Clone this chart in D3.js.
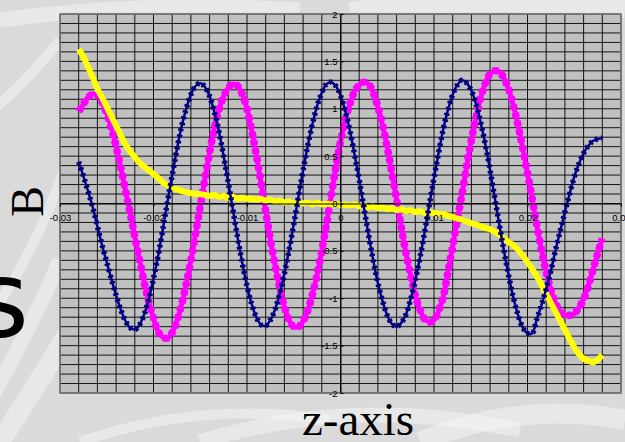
<!DOCTYPE html>
<html>
<head>
<meta charset="utf-8">
<script src="https://cdn.jsdelivr.net/npm/d3@7"></script>
<style>
body { margin:0; background:#dcdcdc; }
svg  { display:block; }
.tick text { font-family:"Liberation Sans", Arial, sans-serif; font-size:9.5px; fill:#000; }
</style>
</head>
<body>
<svg id="chart" width="625" height="442"></svg>
<script>
/* Sampling of the z-axis */

var Z_START = -0.028,
    Z_STEP  =  0.0005;

/* Axis ticks */

var X_TICKS = [-0.03, -0.02, -0.01, 0, 0.01, 0.02, 0.03];
var Y_TICKS = [-2, -1.5, -1, -0.5, 0, 0.5, 1, 1.5, 2];

/* Field components, one value per z sample */

var bNavy = [ 0.44, 0.29, 0.13,-0.04,-0.24,-0.44,-0.62,-0.80,-0.97,-1.12,-1.24,-1.31,-1.33,
             -1.28,-1.17,-1.01,-0.79,-0.55,-0.27, 0.02, 0.30, 0.57, 0.81, 1.00, 1.15, 1.24, 1.27,
              1.23, 1.13, 0.97, 0.76, 0.50, 0.22,-0.07,-0.36,-0.63,-0.87,-1.06,-1.20,-1.28,-1.29,
             -1.23,-1.12,-0.95,-0.74,-0.49,-0.22, 0.07, 0.35, 0.61, 0.84, 1.03, 1.17, 1.26, 1.28,
              1.24, 1.14, 0.98, 0.77, 0.52, 0.25,-0.04,-0.33,-0.60,-0.84,-1.03,-1.18,-1.27,-1.30,
             -1.26,-1.17,-1.01,-0.81,-0.57,-0.30,-0.01, 0.27, 0.54, 0.79, 0.99, 1.15, 1.25, 1.30,
              1.27, 1.19, 1.05, 0.85, 0.62, 0.35, 0.06,-0.23,-0.51,-0.77,-1.00,-1.18,-1.31,-1.37,
             -1.37,-1.22,-1.07,-0.90,-0.71,-0.49,-0.29,-0.09, 0.10, 0.28, 0.42, 0.53, 0.61, 0.66,
              0.68, 0.69];

var bPink = [ 0.97, 1.05, 1.12, 1.155, 1.14, 1.07, 0.95, 0.79, 0.60, 0.38, 0.14,-0.10,-0.35,
             -0.59,-0.83,-1.04,-1.21,-1.35,-1.41,-1.42,-1.36,-1.24,-1.07,-0.85,-0.60,-0.32,-0.03,
              0.26, 0.54, 0.79, 0.99, 1.13, 1.22, 1.26, 1.24, 1.15, 1.00, 0.77, 0.51, 0.22,-0.08,
             -0.38,-0.65,-0.89,-1.09,-1.23,-1.30,-1.30,-1.24,-1.13,-0.96,-0.75,-0.50,-0.22, 0.08,
              0.38, 0.65, 0.88, 1.05, 1.18, 1.25, 1.28, 1.26, 1.17, 1.02, 0.83, 0.59, 0.32, 0.04,
             -0.25,-0.52,-0.76,-0.97,-1.12,-1.22,-1.25,-1.23,-1.13,-0.98,-0.72,-0.45,-0.17, 0.10,
              0.40, 0.67, 0.91, 1.12, 1.27, 1.37, 1.40, 1.39, 1.32, 1.20, 1.03, 0.82, 0.58, 0.32,
              0.05,-0.23,-0.49,-0.72,-0.91,-1.05,-1.14,-1.18,-1.18,-1.16,-1.10,-1.01,-0.87,-0.70,
             -0.53,-0.37];

var bYellow = [ 1.63, 1.55, 1.44, 1.33, 1.21, 1.12, 1.02, 0.92, 0.82, 0.72, 0.62, 0.55, 0.49,
                0.43, 0.39, 0.35, 0.31, 0.27, 0.22, 0.19, 0.16, 0.15, 0.13, 0.12, 0.11, 0.10, 0.10,
                0.09, 0.08, 0.09, 0.07, 0.08, 0.06, 0.07, 0.05, 0.06, 0.05, 0.05, 0.04, 0.05, 0.03,
                0.04, 0.02, 0.03, 0.01, 0.02, 0.00, 0.01, 0.00, 0.01,-0.01, 0.01,-0.01, 0.00,-0.01,
                0.00,-0.02,-0.01,-0.02,-0.01,-0.03,-0.02,-0.04,-0.03,-0.05,-0.04,-0.06,-0.05,-0.07,
               -0.06,-0.08,-0.07,-0.09,-0.08,-0.10,-0.09,-0.10,-0.11,-0.11,-0.13,-0.14,-0.16,-0.17,
               -0.19,-0.21,-0.22,-0.24,-0.26,-0.27,-0.30,-0.33,-0.37,-0.41,-0.44,-0.49,-0.55,-0.62,
               -0.69,-0.77,-0.86,-0.95,-1.05,-1.14,-1.24,-1.33,-1.43,-1.52,-1.59,-1.64,-1.66,-1.68,
               -1.65,-1.60];

/* Measures */

var W = 625,
    H = 442;

var PLOT = { left: 60, right: 621, top: 14, bottom: 393 };

var svg = d3.select("#chart");

var x = d3.scaleLinear().domain([-0.03, 0.03]).range([PLOT.left, PLOT.right]),
    y = d3.scaleLinear().domain([-2, 2]).range([PLOT.bottom, PLOT.top]);

function zAt(i) { return Z_START + i * Z_STEP; }

function addBackground() {
	svg.append("rect")
		.attr("width", W)
		.attr("height", H)
		.attr("fill", "#dadada");

	// light swirls of the slide background
	var swirls = [
		"M-20,330 Q40,250 70,150",
		"M-10,400 Q30,330 60,260",
		"M0,442 Q40,380 70,330",
		"M80,442 Q200,400 330,420",
		"M200,442 Q350,395 520,430",
		"M420,442 Q520,400 625,420",
		"M-20,120 Q20,90 60,40",
		"M0,20 Q150,0 300,10",
		"M350,12 Q480,-5 625,8"
	];
	svg.append("g").selectAll("path")
		.data(swirls)
		.enter().append("path")
		.attr("d", String)
		.attr("fill", "none")
		.attr("stroke", "#f4f4f4")
		.attr("stroke-opacity", 0.55)
		.attr("stroke-width", function(d, i) { return 10 + (i % 3) * 5; });
}

function addPlotArea() {
	svg.append("rect")
		.attr("x", PLOT.left)
		.attr("y", PLOT.top)
		.attr("width", PLOT.right - PLOT.left)
		.attr("height", PLOT.bottom - PLOT.top)
		.attr("fill", "#c0c0c0");

	var grid = svg.append("g").attr("class", "grid")
		.attr("stroke", "#000")
		.attr("stroke-width", 0.9);

	grid.selectAll("line.v")
		.data(x.ticks(30))
		.enter().append("line")
		.attr("class", "v")
		.attr("x1", function(d) { return x(d); })
		.attr("x2", function(d) { return x(d); })
		.attr("y1", PLOT.top)
		.attr("y2", PLOT.bottom);

	grid.selectAll("line.h")
		.data(y.ticks(40))
		.enter().append("line")
		.attr("class", "h")
		.attr("x1", PLOT.left)
		.attr("x2", PLOT.right)
		.attr("y1", function(d) { return y(d); })
		.attr("y2", function(d) { return y(d); });

	svg.append("rect")
		.attr("x", PLOT.left)
		.attr("y", PLOT.top)
		.attr("width", PLOT.right - PLOT.left)
		.attr("height", PLOT.bottom - PLOT.top)
		.attr("fill", "none")
		.attr("stroke", "#7a7a7a")
		.attr("stroke-width", 1.5);
}

function addSeries() {
	var smooth = d3.line()
		.x(function(d, i) { return x(zAt(i)); })
		.y(function(d) { return y(d); })
		.curve(d3.curveCatmullRom);

	var plain = d3.line()
		.x(function(d, i) { return x(zAt(i)); })
		.y(function(d) { return y(d); });

	var series = svg.append("g").attr("fill", "none");

	// magenta, square markers
	series.append("path")
		.attr("d", smooth(bPink))
		.attr("stroke", "#ff00ff")
		.attr("stroke-width", 5)
		.attr("stroke-linejoin", "round");
	series.append("path")
		.attr("d", smooth(bPink))
		.attr("stroke", "#ff00ff")
		.attr("stroke-width", 7.5)
		.attr("stroke-dasharray", "5,3.5");

	// yellow, thick noisy line
	series.append("path")
		.attr("d", plain(bYellow))
		.attr("stroke", "#ffff00")
		.attr("stroke-width", 6)
		.attr("stroke-linejoin", "miter");

	// navy, diamond markers
	series.append("path")
		.attr("d", smooth(bNavy))
		.attr("stroke", "#000080")
		.attr("stroke-width", 2.5);
	series.append("path")
		.attr("d", smooth(bNavy))
		.attr("stroke", "#000080")
		.attr("stroke-width", 5.5)
		.attr("stroke-dasharray", "2.6,3.6");
}

function addAxes() {
	var xAxis = d3.axisBottom(x)
		.tickValues(X_TICKS)
		.tickFormat(String)
		.tickSizeInner(3)
		.tickSizeOuter(0)
		.tickPadding(8);

	var yAxis = d3.axisLeft(y)
		.tickValues(Y_TICKS)
		.tickFormat(String)
		.tickSizeInner(-3)
		.tickSizeOuter(0)
		.tickPadding(3);

	var gx = svg.append("g")
		.attr("transform", "translate(0," + y(0) + ")")
		.call(xAxis);
	gx.select(".domain").attr("stroke", "#000");
	gx.selectAll(".tick text").attr("font-family", null).attr("font-size", null);

	var gy = svg.append("g")
		.attr("transform", "translate(" + x(0) + ",0)")
		.call(yAxis);
	gy.select(".domain").attr("stroke", "#000");
	gy.selectAll(".tick text").attr("font-family", null).attr("font-size", null);
}

function addTitles() {
	svg.append("text")
		.attr("x", 29)
		.attr("y", 337)
		.attr("text-anchor", "end")
		.attr("font-family", "'DejaVu Sans', Verdana, sans-serif")
		.attr("font-size", 106)
		.attr("fill", "#000")
		.text("s");

	svg.append("text")
		.attr("transform", "translate(43,201.5) rotate(-90)")
		.attr("text-anchor", "middle")
		.attr("font-family", "'Liberation Serif', 'Times New Roman', serif")
		.attr("font-size", 46)
		.attr("fill", "#000")
		.text("B");

	svg.append("text")
		.attr("x", 358)
		.attr("y", 435)
		.attr("text-anchor", "middle")
		.attr("font-family", "'Liberation Serif', 'Times New Roman', serif")
		.attr("font-size", 47)
		.attr("fill", "#000")
		.text("z-axis");
}

addBackground();
addPlotArea();
addSeries();
addAxes();
addTitles();
</script>
</body>
</html>
